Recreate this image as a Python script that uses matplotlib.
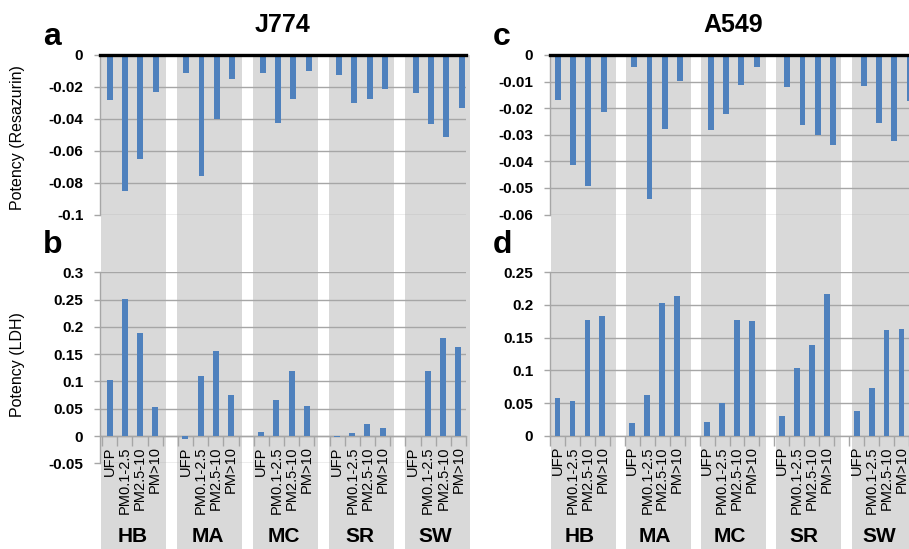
import matplotlib
matplotlib.use('Agg')
import matplotlib.pyplot as plt
import matplotlib.transforms as mtransforms

plt.rcParams['font.family'] = ['Liberation Sans', 'DejaVu Sans']

# ---------------- data ----------------
sites = ['HB', 'MA', 'MC', 'SR', 'SW']
fractions = ['UFP', 'PM0.1-2.5', 'PM2.5-10', 'PM>10']

# one row per site, one value per size fraction
j774_resazurin = [[-0.028, -0.0855, -0.065, -0.023],
                  [-0.0115, -0.076, -0.040, -0.015],
                  [-0.011, -0.0427, -0.0277, -0.010],
                  [-0.0127, -0.0298, -0.0277, -0.0215],
                  [-0.024, -0.0433, -0.0517, -0.033]]
j774_ldh = [[0.1026, 0.251, 0.189, 0.0525],
            [-0.005, 0.110, 0.156, 0.0745],
            [0.008, 0.0666, 0.1185, 0.0556],
            [-0.002, 0.005, 0.0214, 0.0147],
            [0.0, 0.120, 0.180, 0.1625]]
a549_resazurin = [[-0.017, -0.0413, -0.0494, -0.0215],
                  [-0.0047, -0.054, -0.0278, -0.0096],
                  [-0.0283, -0.0223, -0.0114, -0.0044],
                  [-0.0122, -0.0264, -0.0302, -0.0338],
                  [-0.0118, -0.0255, -0.0322, -0.0172]]
a549_ldh = [[0.0577, 0.0526, 0.1765, 0.183],
            [0.0194, 0.0622, 0.2036, 0.2133],
            [0.0204, 0.05, 0.1765, 0.1755],
            [0.030, 0.104, 0.139, 0.2163],
            [0.0372, 0.0735, 0.161, 0.164]]

ticks_a = [0, -0.02, -0.04, -0.06, -0.08, -0.1]
labels_a = ['0', '-0.02', '-0.04', '-0.06', '-0.08', '-0.1']
ticks_b = [-0.05, 0, 0.05, 0.1, 0.15, 0.2, 0.25, 0.3]
labels_b = ['-0.05', '0', '0.05', '0.1', '0.15', '0.2', '0.25', '0.3']
ticks_c = [0, -0.01, -0.02, -0.03, -0.04, -0.05, -0.06]
labels_c = ['0', '-0.01', '-0.02', '-0.03', '-0.04', '-0.05', '-0.06']
ticks_d = [0, 0.05, 0.1, 0.15, 0.2, 0.25]
labels_d = ['0', '0.05', '0.1', '0.15', '0.2', '0.25']

# ---------------- style ----------------
W, H = 909, 549
BAR = '#4f81bd'
BAND = '#d9d9d9'
GRID = '#a6a6a6'
SLOTS = 5  # 4 bars + 1 empty slot per site

fig = plt.figure(figsize=(W / 100, H / 100), dpi=100)


def frac(x0, y0, x1, y1):
    return [x0 / W, 1 - y1 / H, (x1 - x0) / W, (y1 - y0) / H]


def positions():
    xs, labs = [], []
    for g in range(len(sites)):
        for i in range(len(fractions)):
            xs.append(g * SLOTS + i)
            labs.append(fractions[i])
    return xs, labs


def flat(rows):
    return [v for r in rows for v in r]


def style_axis(ax, ticks, labels, ylim, xlim):
    ax.set_facecolor('none')
    ax.set_xlim(*xlim)
    ax.set_ylim(*ylim)
    ax.set_yticks(ticks)
    ax.set_yticklabels(labels, fontsize=11, fontweight='bold')
    ax.tick_params(axis='y', length=4, width=1, color=GRID, pad=8, direction='out')
    ax.yaxis.grid(True, color=GRID, lw=1)
    ax.set_axisbelow(True)
    for s in ['top', 'right']:
        ax.spines[s].set_visible(False)
    ax.spines['left'].set_color(GRID)
    ax.spines['left'].set_linewidth(1)


def build(side_x0, side_x1, xlim, band_start, band_step, band_w,
          res, ldh, tres, lres, tldh, lldh, ylim_res, ylim_ldh, ldh_bottom_px):
    xs, labs = positions()
    # background bands spanning the whole height
    bg = fig.add_axes(frac(side_x0, 55, side_x1, 549), zorder=0)
    bg.set_xlim(*xlim)
    bg.set_ylim(0, 1)
    bg.axis('off')
    for g in range(len(sites)):
        r = plt.Rectangle((band_start + g * band_step, 0), band_w, 1,
                          color=BAND, lw=0, clip_on=False)
        bg.add_patch(r)

    # resazurin panel
    ax1 = fig.add_axes(frac(side_x0, 55, side_x1, 214.5), zorder=2)
    style_axis(ax1, tres, lres, ylim_res, xlim)
    ax1.bar(xs, flat(res), width=0.39, color=BAR, zorder=3)
    ax1.axhline(0, color='black', lw=2.4, zorder=4, clip_on=False)
    ax1.spines['bottom'].set_visible(False)
    ax1.set_xticks([])

    # LDH panel
    ax2 = fig.add_axes(frac(side_x0, 272.3, side_x1, ldh_bottom_px), zorder=2)
    style_axis(ax2, tldh, lldh, ylim_ldh, xlim)
    ax2.bar(xs, flat(ldh), width=0.39, color=BAR, zorder=3)
    ax2.spines['bottom'].set_position(('data', 0))
    ax2.spines['bottom'].set_color(GRID)
    ax2.spines['bottom'].set_linewidth(1)
    bounds = [k + 0.5 for k in range(-1, len(sites) * SLOTS - 1)]
    ax2.set_xticks(bounds)
    ax2.set_xticklabels([''] * len(bounds))
    ax2.tick_params(axis='x', length=7.5, width=1, color=GRID, direction='out')
    for x, lab in zip(xs, labs):
        ax2.annotate(lab, xy=(x, 0), xycoords='data', xytext=(0, -7.5),
                     textcoords='offset points', rotation=90, ha='center',
                     va='top', fontsize=10.5, annotation_clip=False, zorder=5)
    trans = mtransforms.blended_transform_factory(ax2.transData, fig.transFigure)
    for g, s in enumerate(sites):
        fig.text(g * SLOTS + 1.5, 1 - 536 / H, s, transform=trans, ha='center',
                 va='center', fontsize=15, fontweight='bold', zorder=5)
    return ax1, ax2


build(100, 466, (-0.634, 23.29), -0.569, 4.965, 4.25,
      j774_resazurin, j774_ldh, ticks_a, labels_a, ticks_b, labels_b,
      (-0.1, 0), (-0.05, 0.3), 463.3)
build(550, 909, (-0.503, 22.96), -0.438, 4.912, 4.25,
      a549_resazurin, a549_ldh, ticks_c, labels_c, ticks_d, labels_d,
      (-0.06, 0), (0, 0.25), 435.7)

# titles, panel letters, axis labels
fig.text(282 / W, 1 - 32 / H, 'J774', ha='center', va='baseline', fontsize=18, fontweight='bold')
fig.text(733 / W, 1 - 32 / H, 'A549', ha='center', va='baseline', fontsize=18, fontweight='bold')
for lx, ly, letter in [(43, 45, 'a'), (43, 253, 'b'), (493, 45, 'c'), (493, 253, 'd')]:
    fig.text(lx / W, 1 - ly / H, letter, ha='left', va='baseline', fontsize=23, fontweight='bold')
fig.text(18 / W, 1 - 138 / H, 'Potency (Resazurin)', rotation=90, ha='center', va='center', fontsize=11.5)
fig.text(18 / W, 1 - 365 / H, 'Potency (LDH)', rotation=90, ha='center', va='center', fontsize=11.5)

fig.savefig('out.png', dpi=100)
